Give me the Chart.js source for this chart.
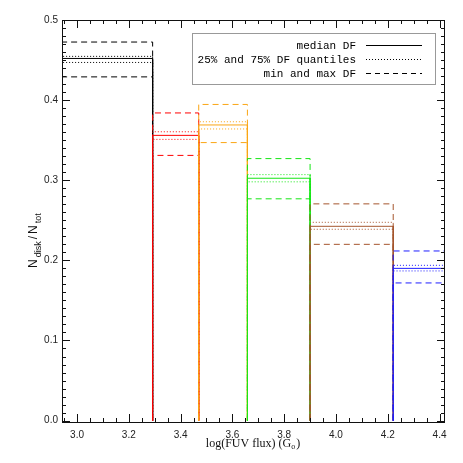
<!DOCTYPE html>
<html>
<head>
<meta charset="utf-8">
<script src="https://cdn.jsdelivr.net/npm/chart.js@4/dist/chart.umd.min.js"></script>
<style>
html, body { margin: 0; padding: 0; background: #fff; }
</style>
</head>
<body>
<canvas id="miGraficoDF" width="463" height="463"></canvas>
<script>
// bordes de los bins en log(FUV flux)
const BIN_EDGES = [2.90, 3.292, 3.470, 3.658, 3.900, 4.221, 4.50];
const BIN_COLORS = ['rgb(0,0,0)', 'rgb(255,0,0)', 'rgb(250,165,20)', 'rgb(20,230,20)', 'rgb(165,85,45)', 'rgb(30,30,255)'];

// fracciones de disco por bin
const MEDIAN_DF = [0.452, 0.356, 0.369, 0.3025, 0.2425, 0.190];
const Q25_DF = [0.447, 0.351, 0.364, 0.298, 0.2388, 0.1868];
const Q75_DF = [0.4546, 0.3605, 0.373, 0.307, 0.2475, 0.1938];
const MIN_DF = [0.429, 0.331, 0.347, 0.2768, 0.220, 0.1718];
const MAX_DF = [0.4725, 0.384, 0.3946, 0.327, 0.2705, 0.2117];

const X_TICKS = [3.0, 3.2, 3.4, 3.6, 3.8, 4.0, 4.2, 4.4];
const Y_TICKS = [0.0, 0.1, 0.2, 0.3, 0.4, 0.5];
const LEGEND_LABELS = ['median DF', '25% and 75% DF quantiles', 'min and max DF'];

const DOTTED = [1, 2];
const DASHED = [6, 4];

const SERIES = [
    { values: MEDIAN_DF, dash: [] },
    { values: Q25_DF, dash: DOTTED },
    { values: Q75_DF, dash: DOTTED },
    { values: MIN_DF, dash: DASHED },
    { values: MAX_DF, dash: DASHED }
];

let datasets = [];
for (let i = 0; i < MEDIAN_DF.length; i++) {
    let left = BIN_EDGES[i];
    let right = BIN_EDGES[i + 1];
    SERIES.forEach(function (s, k) {
        let v = s.values[i];
        datasets.push({
            data: [{ x: left, y: 0 }, { x: left, y: v }, { x: right, y: v }, { x: right, y: 0 }],
            borderColor: BIN_COLORS[i],
            borderWidth: 1,
            borderDash: s.dash,
            pointRadius: 0,
            tension: 0,
            fill: false,
            // los bins de la derecha se dibujan encima
            order: (MEDIAN_DF.length - i) * 10 + k
        });
    });
}

function minorTicks(majors, n) {
    let out = [];
    let step = (majors[1] - majors[0]) / n;
    let start = majors[0] - step * n;
    let end = majors[majors.length - 1] + step * n;
    for (let v = start; v <= end + 1e-9; v += step) out.push(v);
    return out;
}

const marcos = {
    id: 'marcos',
    afterDraw: function (chart) {
        const ctx = chart.ctx;
        const a = chart.chartArea;
        const xs = chart.scales.x;
        const ys = chart.scales.y;
        ctx.save();
        ctx.setLineDash([]);

        // marco
        let L = Math.round(a.left);
        let R = Math.round(a.right) - 1;
        let T = Math.round(a.top);
        let B = Math.round(a.bottom) - 1;
        ctx.fillStyle = '#111';
        ctx.fillRect(L, T, R - L + 1, 1);
        ctx.fillRect(L, B, R - L + 1, 1);
        ctx.fillRect(L, T, 1, B - T + 1);
        ctx.fillRect(R, T, 1, B - T + 1);

        // ticks hacia dentro en los cuatro lados
        function tickX(v, len) {
            let p = Math.round(xs.getPixelForValue(v));
            if (p < L || p > R) return;
            ctx.fillRect(p, B - len, 1, len);
            ctx.fillRect(p, T, 1, len);
        }
        function tickY(v, len) {
            let p = Math.round(ys.getPixelForValue(v));
            if (p < T || p > B) return;
            ctx.fillRect(L, p, len, 1);
            ctx.fillRect(R - len + 1, p, len, 1);
        }
        minorTicks(X_TICKS, 4).forEach(v => tickX(v, 4));
        X_TICKS.forEach(v => tickX(v, 8));
        minorTicks(Y_TICKS, 10).forEach(v => tickY(v, 4));
        Y_TICKS.forEach(v => tickY(v, 8));

        // titulo eje x
        ctx.fillStyle = '#111';
        ctx.textBaseline = 'alphabetic';
        let f1 = '12px "Liberation Serif"';
        let f2 = '8px "Liberation Serif"';
        ctx.font = f1;
        let t1 = 'log(FUV flux) (G';
        let w1 = ctx.measureText(t1).width;
        ctx.font = f2;
        let w2 = ctx.measureText('o').width;
        ctx.font = f1;
        let w3 = ctx.measureText(')').width;
        let x0 = 253 - (w1 + w2 + w3 + 1) / 2;
        ctx.textAlign = 'left';
        ctx.fillText(t1, x0, 447);
        ctx.font = f2;
        ctx.fillText('o', x0 + w1, 449);
        ctx.font = f1;
        ctx.fillText(')', x0 + w1 + w2 + 1, 447);

        // titulo eje y
        ctx.save();
        ctx.translate(37, 268);
        ctx.rotate(-Math.PI / 2);
        let big = '12px "Liberation Sans"';
        let small = '9px "Liberation Sans"';
        let x = 0;
        [['N', big, 0], ['disk', small, 4], ['/', big, 0], ['N', big, 0], ['tot', small, 4]].forEach(function (p) {
            ctx.font = p[1];
            ctx.fillText(p[0], x, p[2]);
            x += ctx.measureText(p[0]).width + 2;
        });
        ctx.restore();

        // leyenda
        ctx.lineWidth = 1;
        ctx.strokeStyle = '#999';
        ctx.strokeRect(192.5, 33.5, 243, 51);
        ctx.font = '11px "Liberation Mono"';
        ctx.textAlign = 'right';
        ctx.textBaseline = 'middle';
        ctx.fillStyle = '#000';
        let rows = [45, 59, 73];
        let dashes = [[], DOTTED, [5, 4]];
        LEGEND_LABELS.forEach(function (lab, r) {
            ctx.fillText(lab, 356, rows[r] + 1);
            ctx.strokeStyle = '#000';
            ctx.setLineDash(dashes[r]);
            ctx.beginPath();
            ctx.moveTo(366, rows[r] + 0.5);
            ctx.lineTo(422, rows[r] + 0.5);
            ctx.stroke();
        });
        ctx.setLineDash([]);
        ctx.restore();
    }
};

const GRAFICO = document.getElementById('miGraficoDF');
let grafico = new Chart(GRAFICO, {
    type: 'line',
    data: { datasets: datasets },
    options: {
        responsive: false,
        animation: false,
        devicePixelRatio: 1,
        layout: { padding: { top: 20, right: 18, left: 0, bottom: 0 } },
        plugins: { legend: { display: false }, tooltip: { enabled: false } },
        scales: {
            x: {
                type: 'linear',
                min: 2.942,
                max: 4.421,
                grid: { display: false, drawTicks: false },
                border: { display: false },
                afterFit: function (s) { s.height = 40; },
                afterBuildTicks: function (s) { s.ticks = X_TICKS.map(v => ({ value: v })); },
                ticks: {
                    padding: 6,
                    color: '#222',
                    font: { family: 'Liberation Sans', size: 10 },
                    callback: function (value) { return value.toFixed(1); }
                }
            },
            y: {
                type: 'linear',
                min: -0.003,
                max: 0.5,
                grid: { display: false, drawTicks: false },
                border: { display: false },
                afterFit: function (s) { s.width = 62; },
                afterBuildTicks: function (s) { s.ticks = Y_TICKS.map(v => ({ value: v })); },
                ticks: {
                    padding: 4,
                    color: '#222',
                    font: { family: 'Liberation Sans', size: 10 },
                    callback: function (value) { return value.toFixed(1); }
                }
            }
        }
    },
    plugins: [marcos]
});
</script>
</body>
</html>
